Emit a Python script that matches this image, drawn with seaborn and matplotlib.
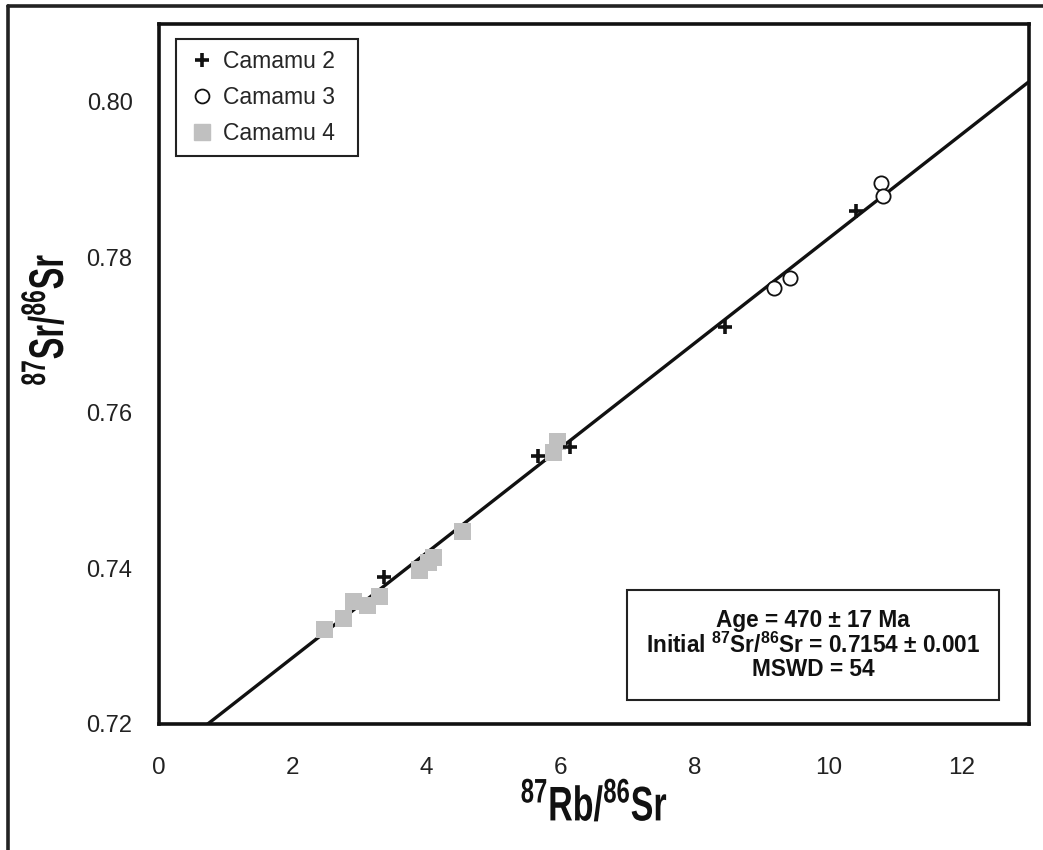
import numpy as np
import pandas as pd
import matplotlib
matplotlib.use("Agg")
import matplotlib.pyplot as plt
from matplotlib.lines import Line2D
from matplotlib import font_manager as fm
from matplotlib.patheffects import AbstractPathEffect
from matplotlib.transforms import Affine2D
import seaborn as sns

# ---- data ----
c2_x = [3.36, 5.67, 6.14, 8.46, 10.42]
c2_y = [0.7389, 0.7545, 0.7556, 0.7710, 0.7860]
c3_x = [9.19, 9.43, 10.79, 10.82]
c3_y = [0.7761, 0.7774, 0.7895, 0.7879]
c4_x = [2.47, 2.75, 2.90, 3.12, 3.29, 3.89, 4.02, 4.10, 4.53, 5.89, 5.96]
c4_y = [0.7322, 0.7336, 0.7357, 0.7352, 0.7364, 0.7398, 0.7408, 0.7414, 0.7447, 0.7549, 0.7563]
series = ["Camamu 2", "Camamu 3", "Camamu 4"]
iso_intercept = 0.7151
iso_slope = 0.00673
x_ticks = [0, 2, 4, 6, 8, 10, 12]
y_ticks = [0.72, 0.74, 0.76, 0.78, 0.80]
stats_lines = ["Age = 470 \u00b1 17 Ma",
               "Initial $^{87}$Sr/$^{86}$Sr = 0.7154 \u00b1 0.001",
               "MSWD = 54"]

sns.set_theme(style="white")
names = {f.name for f in fm.fontManager.ttflist}
narrow = "Liberation Sans Narrow" if "Liberation Sans Narrow" in names else "Liberation Sans"
plt.rcParams["font.family"] = ["Liberation Sans", "DejaVu Sans"]
plt.rcParams["mathtext.default"] = "regular"

W, H = 1043, 850


class Squeeze(AbstractPathEffect):
    """Condense glyphs along one display axis around a fixed centre (pixels)."""
    def __init__(self, sx=1.0, sy=1.0, cx=0.0, cy=0.0):
        super().__init__()
        self.t = Affine2D().translate(-cx, -cy).scale(sx, sy).translate(cx, cy)

    def draw_path(self, renderer, gc, tpath, affine, rgbFace=None):
        renderer.draw_path(gc, tpath, affine + self.t, rgbFace)


df = pd.concat([
    pd.DataFrame({"x": c2_x, "y": c2_y, "s": series[0]}),
    pd.DataFrame({"x": c3_x, "y": c3_y, "s": series[1]}),
    pd.DataFrame({"x": c4_x, "y": c4_y, "s": series[2]}),
])

fig = plt.figure(figsize=(W / 100, H / 100), dpi=100)
ax = fig.add_axes([159 / W, 1 - 724 / H, (1029 - 159) / W, (724 - 24) / H])

# isochron line
xl = np.array([0.0, 13.0])
line_df = pd.DataFrame({"x": xl, "y": iso_intercept + iso_slope * xl})
sns.lineplot(data=line_df, x="x", y="y", ax=ax, color="#111111", lw=2.4, zorder=2)

gray = "#c0c0c0"
sns.scatterplot(data=df[df.s == series[2]], x="x", y="y", ax=ax, marker="s",
                s=150, color=gray, edgecolor="none", zorder=3)
sns.scatterplot(data=df[df.s == series[1]], x="x", y="y", ax=ax, marker="o",
                s=105, facecolor="white", edgecolor="#111111", linewidth=1.3, zorder=4)
sns.scatterplot(data=df[df.s == series[0]], x="x", y="y", ax=ax, marker="+",
                s=95, color="#111111", linewidth=2.6, zorder=5)

ax.set_xlim(0, 13)
ax.set_ylim(0.72, 0.81)
ax.set_xticks(x_ticks)
ax.set_xticklabels([str(t) for t in x_ticks], fontfamily=narrow, fontsize=17.5)
ax.set_yticks(y_ticks)
ax.set_yticklabels([f"{t:.2f}" for t in y_ticks], fontsize=17)
ax.tick_params(axis="x", direction="out", length=15, width=1.3, pad=9, color="#222222")
ax.tick_params(axis="y", direction="out", length=13, width=1.3, pad=6, color="#222222")
ax.tick_params(axis="both", labelcolor="#222222")
ax.xaxis.get_major_ticks()[0].tick1line.set_visible(False)
ax.yaxis.get_major_ticks()[0].tick1line.set_visible(False)
for sp in ax.spines.values():
    sp.set_visible(True)
    sp.set_linewidth(2.6)
    sp.set_color("#111111")

xlab = ax.set_xlabel("$^{87}$Rb/$^{86}$Sr", fontfamily=narrow, fontweight="bold",
                     fontsize=35, labelpad=3, color="#111111")
xlab.set_path_effects([Squeeze(sx=0.70, cx=594)])
ylab = ax.set_ylabel("$^{87}$Sr/$^{86}$Sr", fontfamily=narrow, fontweight="bold",
                     fontsize=35, color="#111111")
ax.yaxis.set_label_coords((73 - 159) / 870, (724 - 320) / 700)
ylab.set_path_effects([Squeeze(sy=0.67, cy=H - 320)])

handles = [
    Line2D([], [], marker="+", ls="none", color="#111111", markersize=10, markeredgewidth=2.6),
    Line2D([], [], marker="o", ls="none", markerfacecolor="white", markeredgecolor="#111111",
           markersize=10, markeredgewidth=1.3),
    Line2D([], [], marker="s", ls="none", color=gray, markersize=12),
]
leg = ax.legend(handles, series, loc="upper left",
                bbox_to_anchor=(17 / 870, 1 - 132 / 700, 182 / 870, 117 / 700),
                mode="expand",
                frameon=True, fancybox=False, framealpha=1, edgecolor="#222222",
                fontsize=16.5, handlelength=1.3, handletextpad=0.25, labelspacing=0.55,
                borderpad=0.5, borderaxespad=0)
leg.get_frame().set_linewidth(1.5)

ax.text((813 - 159) / 870, (724 - 645) / 700, "\n".join(stats_lines), transform=ax.transAxes,
        ha="center", va="center", fontsize=16.3, fontweight="bold", color="#111111",
        linespacing=1.02,
        bbox=dict(boxstyle="square,pad=0.82", facecolor="white", edgecolor="#222222", lw=1.5))

# outer frame lines (left and top)
fig.add_artist(Line2D([8 / W, 8 / W], [0, 1 - 6 / H], transform=fig.transFigure,
                      color="#222222", lw=2.6))
fig.add_artist(Line2D([8 / W, 1], [1 - 6 / H, 1 - 6 / H], transform=fig.transFigure,
                      color="#222222", lw=2.6))

fig.savefig("out.png", dpi=100)
